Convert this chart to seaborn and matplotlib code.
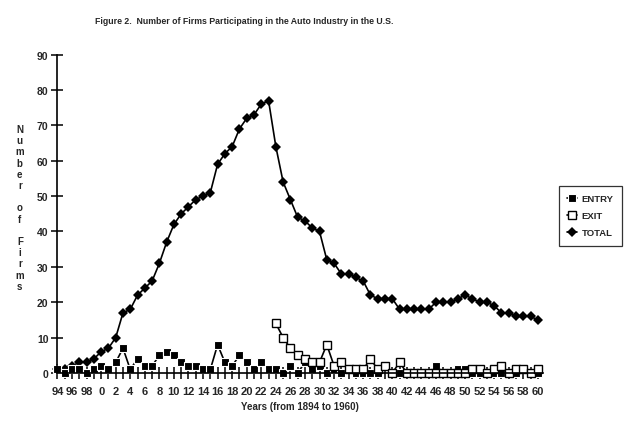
import numpy as np
import matplotlib
matplotlib.use("Agg")
import matplotlib.pyplot as plt
import seaborn as sns

years = list(range(1894, 1961))

total = [1, 1, 2, 3, 3, 4, 6, 7, 10, 17,
         18, 22, 24, 26, 31, 37, 42, 45, 47, 49,
         50, 51, 59, 62, 64, 69, 72, 73, 76, 77,
         64, 54, 49, 44, 43, 41, 40, 32, 31, 28,
         28, 27, 26, 22, 21, 21, 21, 18, 18, 18,
         18, 18, 20, 20, 20, 21, 22, 21, 20, 20,
         19, 17, 17, 16, 16, 16, 15]

entry = [1, 0, 1, 1, 0, 1, 2, 1, 3, 7,
         1, 4, 2, 2, 5, 6, 5, 3, 2, 2,
         1, 1, 8, 3, 2, 5, 3, 1, 3, 1,
         1, 0, 2, 0, 3, 1, 2, 0, 1, 0,
         1, 0, 0, 0, 0, 2, 0, 0, 0, 0,
         0, 0, 2, 0, 0, 1, 1, 0, 0, 0,
         0, 0, 0, 0, 1, 0, 0]

# exits only recorded from 1924 on
exit_ = [np.nan] * 30 + [14, 10, 7, 5, 4, 3, 3, 8, 2, 3,
                         1, 1, 1, 4, 1, 2, 0, 3, 0, 0,
                         0, 0, 0, 0, 0, 0, 0, 1, 1, 0,
                         1, 2, 0, 1, 1, 0, 1]

y_ticks = list(range(0, 100, 10))
x_labels = [str(y % 100) if (y - 1894) % 2 == 0 else "" for y in years]

sns.set_style("ticks")
plt.rcParams["font.family"] = ["Liberation Sans", "DejaVu Sans"]
plt.rcParams["font.weight"] = "bold"

fig = plt.figure(figsize=(6.4, 4.31), dpi=100)
ax = fig.add_axes([0.0898, 0.1323, 0.7586, 0.7387])

sns.lineplot(x=years, y=total, ax=ax, color="black", marker="D", markersize=5,
             markeredgewidth=0, linewidth=1.2, label="TOTAL", clip_on=False)
sns.lineplot(x=years, y=entry, ax=ax, color="black", marker="s", markersize=6,
             markeredgewidth=0.8, linewidth=1.2, label="ENTRY", clip_on=False)
sns.lineplot(x=years, y=exit_, ax=ax, color="black", marker="s", markersize=6,
             markerfacecolor="white", markeredgecolor="black", markeredgewidth=1.0,
             linewidth=1.2, label="EXIT", clip_on=False)

ax.set_xlim(1894, 1960.7)
ax.set_ylim(0, 90)
ax.set_yticks(y_ticks)
ax.set_yticklabels([str(t) for t in y_ticks], fontsize=7.5, fontweight="bold")
ax.set_xticks(years)
ax.set_xticklabels(x_labels, fontsize=8, fontweight="bold")
ax.tick_params(axis="both", direction="inout", length=9, width=1.1, color="black")
ax.tick_params(axis="x", pad=5)
ax.tick_params(axis="y", pad=2)
for side in ["top", "right"]:
    ax.spines[side].set_visible(False)
for side in ["left", "bottom"]:
    ax.spines[side].set_linewidth(1.2)
    ax.spines[side].set_color("black")
ax.set_xlabel("")
ax.set_ylabel("")

handles, labels = ax.get_legend_handles_labels()
order = [labels.index(n) for n in ["ENTRY", "EXIT", "TOTAL"]]
leg = ax.legend([handles[i] for i in order], [labels[i] for i in order],
                loc="upper left", bbox_to_anchor=(0.866, 0.578),
                bbox_transform=fig.transFigure, frameon=True, fancybox=False,
                handlelength=1.0, handletextpad=0.5, borderpad=0.9,
                labelspacing=0.85, prop={"size": 6.8, "weight": "bold"})
leg.get_frame().set_edgecolor("black")
leg.get_frame().set_linewidth(0.9)

fig.text(0.381, 0.95, "Figure 2.  Number of Firms Participating in the Auto Industry in the U.S.",
         ha="center", va="center", fontsize=6.3, fontweight="bold")
fig.text(0.469, 0.056, "Years (from 1894 to 1960)", ha="center", va="center",
         fontsize=7, fontweight="bold")

ylabel = "Number of Firms"
for i, ch in enumerate(ylabel):
    fig.text(0.031, 1 - (130 + i * 11.2) / 431, ch, ha="center", va="center",
             fontsize=7, fontweight="bold")

fig.savefig("out.png", dpi=100)
